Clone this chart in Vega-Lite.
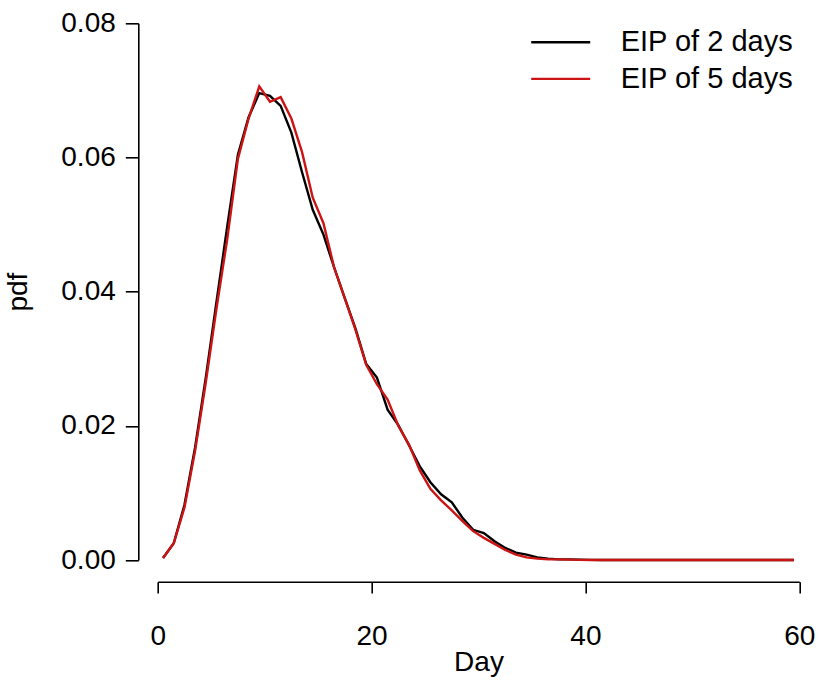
{
  "$schema": "https://vega.github.io/schema/vega-lite/v6.json",
  "width": 641.6,
  "height": 536.7,
  "autosize": {"type": "none"},
  "padding": {"left": 157.7, "top": 23.3, "right": 19.7, "bottom": 123},
  "background": "white",
  "config": {
    "view": {"stroke": null},
    "font": "Liberation Sans",
    "legend": {
      "title": null,
      "orient": "none",
      "padding": 0,
      "symbolType": "stroke",
      "symbolSize": 3481,
      "symbolStrokeWidth": 2.4,
      "labelFont": "Liberation Sans",
      "labelFontSize": 29,
      "labelColor": "black",
      "labelOffset": 29,
      "labelLimit": 400
    }
  },
  "data": {
    "values": [
      {"day": 0.5, "pdf": 0.0003, "series": "EIP of 2 days"},
      {"day": 1.5, "pdf": 0.0025, "series": "EIP of 2 days"},
      {"day": 2.5, "pdf": 0.0082, "series": "EIP of 2 days"},
      {"day": 3.5, "pdf": 0.0168, "series": "EIP of 2 days"},
      {"day": 4.5, "pdf": 0.0272, "series": "EIP of 2 days"},
      {"day": 5.5, "pdf": 0.0385, "series": "EIP of 2 days"},
      {"day": 6.5, "pdf": 0.0497, "series": "EIP of 2 days"},
      {"day": 7.5, "pdf": 0.0604, "series": "EIP of 2 days"},
      {"day": 8.5, "pdf": 0.0660, "series": "EIP of 2 days"},
      {"day": 9.5, "pdf": 0.0696, "series": "EIP of 2 days"},
      {"day": 10.5, "pdf": 0.0692, "series": "EIP of 2 days"},
      {"day": 11.5, "pdf": 0.0677, "series": "EIP of 2 days"},
      {"day": 12.5, "pdf": 0.0637, "series": "EIP of 2 days"},
      {"day": 13.5, "pdf": 0.0578, "series": "EIP of 2 days"},
      {"day": 14.5, "pdf": 0.0522, "series": "EIP of 2 days"},
      {"day": 15.5, "pdf": 0.0485, "series": "EIP of 2 days"},
      {"day": 16.5, "pdf": 0.0436, "series": "EIP of 2 days"},
      {"day": 17.5, "pdf": 0.0390, "series": "EIP of 2 days"},
      {"day": 18.5, "pdf": 0.0345, "series": "EIP of 2 days"},
      {"day": 19.5, "pdf": 0.0292, "series": "EIP of 2 days"},
      {"day": 20.5, "pdf": 0.0272, "series": "EIP of 2 days"},
      {"day": 21.5, "pdf": 0.0224, "series": "EIP of 2 days"},
      {"day": 22.5, "pdf": 0.0201, "series": "EIP of 2 days"},
      {"day": 23.5, "pdf": 0.0171, "series": "EIP of 2 days"},
      {"day": 24.5, "pdf": 0.0140, "series": "EIP of 2 days"},
      {"day": 25.5, "pdf": 0.0116, "series": "EIP of 2 days"},
      {"day": 26.5, "pdf": 0.0098, "series": "EIP of 2 days"},
      {"day": 27.5, "pdf": 0.0086, "series": "EIP of 2 days"},
      {"day": 28.5, "pdf": 0.0063, "series": "EIP of 2 days"},
      {"day": 29.5, "pdf": 0.0045, "series": "EIP of 2 days"},
      {"day": 30.5, "pdf": 0.0040, "series": "EIP of 2 days"},
      {"day": 31.5, "pdf": 0.0028, "series": "EIP of 2 days"},
      {"day": 32.5, "pdf": 0.0018, "series": "EIP of 2 days"},
      {"day": 33.5, "pdf": 0.0011, "series": "EIP of 2 days"},
      {"day": 34.5, "pdf": 0.0008, "series": "EIP of 2 days"},
      {"day": 35.5, "pdf": 0.0004, "series": "EIP of 2 days"},
      {"day": 36.5, "pdf": 0.0002, "series": "EIP of 2 days"},
      {"day": 37.5, "pdf": 0.0001, "series": "EIP of 2 days"},
      {"day": 38.5, "pdf": 0.0001, "series": "EIP of 2 days"},
      {"day": 39.5, "pdf": 0.00005, "series": "EIP of 2 days"},
      {"day": 40.5, "pdf": 0.00002, "series": "EIP of 2 days"},
      {"day": 41.5, "pdf": 0.00001, "series": "EIP of 2 days"},
      {"day": 42.5, "pdf": 0, "series": "EIP of 2 days"},
      {"day": 43.5, "pdf": 0, "series": "EIP of 2 days"},
      {"day": 44.5, "pdf": 0, "series": "EIP of 2 days"},
      {"day": 45.5, "pdf": 0, "series": "EIP of 2 days"},
      {"day": 46.5, "pdf": 0, "series": "EIP of 2 days"},
      {"day": 47.5, "pdf": 0, "series": "EIP of 2 days"},
      {"day": 48.5, "pdf": 0, "series": "EIP of 2 days"},
      {"day": 49.5, "pdf": 0, "series": "EIP of 2 days"},
      {"day": 50.5, "pdf": 0, "series": "EIP of 2 days"},
      {"day": 51.5, "pdf": 0, "series": "EIP of 2 days"},
      {"day": 52.5, "pdf": 0, "series": "EIP of 2 days"},
      {"day": 53.5, "pdf": 0, "series": "EIP of 2 days"},
      {"day": 54.5, "pdf": 0, "series": "EIP of 2 days"},
      {"day": 55.5, "pdf": 0, "series": "EIP of 2 days"},
      {"day": 56.5, "pdf": 0, "series": "EIP of 2 days"},
      {"day": 57.5, "pdf": 0, "series": "EIP of 2 days"},
      {"day": 58.5, "pdf": 0, "series": "EIP of 2 days"},
      {"day": 59.5, "pdf": 0, "series": "EIP of 2 days"},
      {"day": 0.5, "pdf": 0.0003, "series": "EIP of 5 days"},
      {"day": 1.5, "pdf": 0.0025, "series": "EIP of 5 days"},
      {"day": 2.5, "pdf": 0.0078, "series": "EIP of 5 days"},
      {"day": 3.5, "pdf": 0.0163, "series": "EIP of 5 days"},
      {"day": 4.5, "pdf": 0.0265, "series": "EIP of 5 days"},
      {"day": 5.5, "pdf": 0.0375, "series": "EIP of 5 days"},
      {"day": 6.5, "pdf": 0.0478, "series": "EIP of 5 days"},
      {"day": 7.5, "pdf": 0.0598, "series": "EIP of 5 days"},
      {"day": 8.5, "pdf": 0.0658, "series": "EIP of 5 days"},
      {"day": 9.5, "pdf": 0.0706, "series": "EIP of 5 days"},
      {"day": 10.5, "pdf": 0.0683, "series": "EIP of 5 days"},
      {"day": 11.5, "pdf": 0.0690, "series": "EIP of 5 days"},
      {"day": 12.5, "pdf": 0.0658, "series": "EIP of 5 days"},
      {"day": 13.5, "pdf": 0.0608, "series": "EIP of 5 days"},
      {"day": 14.5, "pdf": 0.0540, "series": "EIP of 5 days"},
      {"day": 15.5, "pdf": 0.0502, "series": "EIP of 5 days"},
      {"day": 16.5, "pdf": 0.0436, "series": "EIP of 5 days"},
      {"day": 17.5, "pdf": 0.0390, "series": "EIP of 5 days"},
      {"day": 18.5, "pdf": 0.0343, "series": "EIP of 5 days"},
      {"day": 19.5, "pdf": 0.0291, "series": "EIP of 5 days"},
      {"day": 20.5, "pdf": 0.0262, "series": "EIP of 5 days"},
      {"day": 21.5, "pdf": 0.0239, "series": "EIP of 5 days"},
      {"day": 22.5, "pdf": 0.0200, "series": "EIP of 5 days"},
      {"day": 23.5, "pdf": 0.0172, "series": "EIP of 5 days"},
      {"day": 24.5, "pdf": 0.0134, "series": "EIP of 5 days"},
      {"day": 25.5, "pdf": 0.0106, "series": "EIP of 5 days"},
      {"day": 26.5, "pdf": 0.0089, "series": "EIP of 5 days"},
      {"day": 27.5, "pdf": 0.0074, "series": "EIP of 5 days"},
      {"day": 28.5, "pdf": 0.0058, "series": "EIP of 5 days"},
      {"day": 29.5, "pdf": 0.0043, "series": "EIP of 5 days"},
      {"day": 30.5, "pdf": 0.0033, "series": "EIP of 5 days"},
      {"day": 31.5, "pdf": 0.0024, "series": "EIP of 5 days"},
      {"day": 32.5, "pdf": 0.0015, "series": "EIP of 5 days"},
      {"day": 33.5, "pdf": 0.0008, "series": "EIP of 5 days"},
      {"day": 34.5, "pdf": 0.0004, "series": "EIP of 5 days"},
      {"day": 35.5, "pdf": 0.0002, "series": "EIP of 5 days"},
      {"day": 36.5, "pdf": 0.0001, "series": "EIP of 5 days"},
      {"day": 37.5, "pdf": 0.0001, "series": "EIP of 5 days"},
      {"day": 38.5, "pdf": 0.00005, "series": "EIP of 5 days"},
      {"day": 39.5, "pdf": 0.00002, "series": "EIP of 5 days"},
      {"day": 40.5, "pdf": 0.00001, "series": "EIP of 5 days"},
      {"day": 41.5, "pdf": 0, "series": "EIP of 5 days"},
      {"day": 42.5, "pdf": 0, "series": "EIP of 5 days"},
      {"day": 43.5, "pdf": 0, "series": "EIP of 5 days"},
      {"day": 44.5, "pdf": 0, "series": "EIP of 5 days"},
      {"day": 45.5, "pdf": 0, "series": "EIP of 5 days"},
      {"day": 46.5, "pdf": 0, "series": "EIP of 5 days"},
      {"day": 47.5, "pdf": 0, "series": "EIP of 5 days"},
      {"day": 48.5, "pdf": 0, "series": "EIP of 5 days"},
      {"day": 49.5, "pdf": 0, "series": "EIP of 5 days"},
      {"day": 50.5, "pdf": 0, "series": "EIP of 5 days"},
      {"day": 51.5, "pdf": 0, "series": "EIP of 5 days"},
      {"day": 52.5, "pdf": 0, "series": "EIP of 5 days"},
      {"day": 53.5, "pdf": 0, "series": "EIP of 5 days"},
      {"day": 54.5, "pdf": 0, "series": "EIP of 5 days"},
      {"day": 55.5, "pdf": 0, "series": "EIP of 5 days"},
      {"day": 56.5, "pdf": 0, "series": "EIP of 5 days"},
      {"day": 57.5, "pdf": 0, "series": "EIP of 5 days"},
      {"day": 58.5, "pdf": 0, "series": "EIP of 5 days"},
      {"day": 59.5, "pdf": 0, "series": "EIP of 5 days"}
    ]
  },
  "encoding": {
    "x": {
      "field": "day",
      "type": "quantitative",
      "scale": {"domain": [0, 60], "nice": false, "zero": false},
      "axis": {
        "title": "Day",
        "values": [0, 20, 40, 60],
        "grid": false,
        "offset": 21.7,
        "domainColor": "black",
        "domainWidth": 1.6,
        "tickColor": "black",
        "tickWidth": 1.6,
        "tickSize": 11.3,
        "labelFont": "Liberation Sans",
        "labelFontSize": 28,
        "labelColor": "black",
        "labelPadding": 29,
        "labelFlush": false,
        "titleFont": "Liberation Sans",
        "titleFontSize": 28,
        "titleFontWeight": "normal",
        "titleColor": "black",
        "titlePadding": -2
      }
    },
    "y": {
      "field": "pdf",
      "type": "quantitative",
      "scale": {"domain": [0, 0.08], "nice": false, "zero": false},
      "axis": {
        "title": "pdf",
        "values": [0, 0.02, 0.04, 0.06, 0.08],
        "format": ".2f",
        "grid": false,
        "offset": 19.4,
        "domainColor": "black",
        "domainWidth": 1.6,
        "tickColor": "black",
        "tickWidth": 1.6,
        "tickSize": 13,
        "labelFont": "Liberation Sans",
        "labelFontSize": 28,
        "labelColor": "black",
        "labelPadding": 10,
        "labelFlush": false,
        "titleFont": "Liberation Sans",
        "titleFontSize": 28,
        "titleFontWeight": "normal",
        "titleColor": "black",
        "titlePadding": 28
      }
    }
  },
  "layer": [
    {
      "transform": [{"filter": "datum.series === 'EIP of 2 days'"}],
      "mark": {"type": "line", "strokeWidth": 2.4, "clip": false},
      "encoding": {
        "color": {
          "field": "series",
          "type": "nominal",
          "scale": {"domain": ["EIP of 2 days"], "range": ["#000000"]},
          "legend": {"legendX": 372, "legendY": -12}
        }
      }
    },
    {
      "transform": [{"filter": "datum.series === 'EIP of 5 days'"}],
      "mark": {"type": "line", "strokeWidth": 2.4, "clip": false},
      "encoding": {
        "color": {
          "field": "series",
          "type": "nominal",
          "scale": {"domain": ["EIP of 5 days"], "range": ["#cc1414"]},
          "legend": {"legendX": 372, "legendY": 24.6}
        }
      }
    }
  ],
  "resolve": {"scale": {"color": "independent"}, "legend": {"color": "independent"}}
}
